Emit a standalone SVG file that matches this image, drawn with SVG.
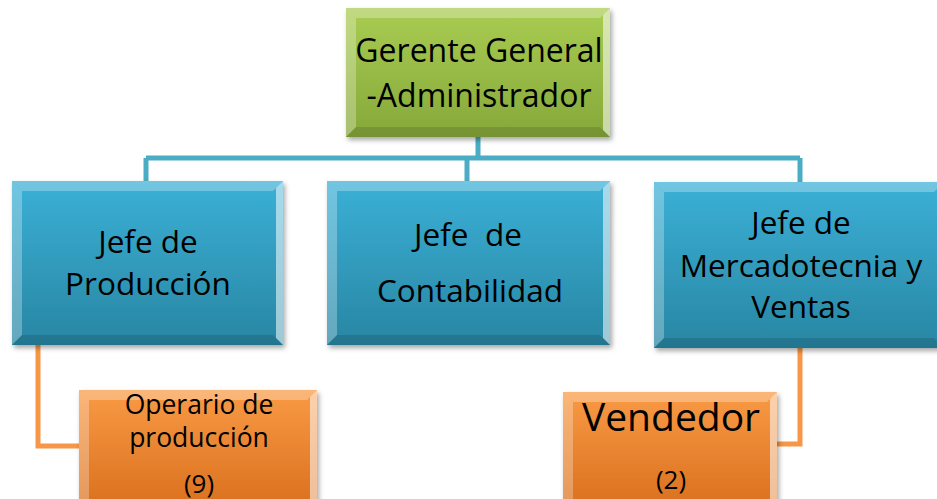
<svg xmlns="http://www.w3.org/2000/svg" width="937" height="499" viewBox="0 0 937 499">
<defs>
<linearGradient id="gGreen" x1="0" y1="0" x2="0" y2="1"><stop offset="0" stop-color="#a9cc52"/><stop offset="1" stop-color="#86a83a"/></linearGradient>
<linearGradient id="gBlue" x1="0" y1="0" x2="0" y2="1"><stop offset="0" stop-color="#3bb0d6"/><stop offset="1" stop-color="#2886a3"/></linearGradient>
<linearGradient id="gOrange" x1="0" y1="0" x2="0" y2="1"><stop offset="0" stop-color="#f99a45"/><stop offset="1" stop-color="#d96f1e"/></linearGradient>
<filter id="sh" x="-10%" y="-10%" width="125%" height="130%"><feDropShadow dx="2" dy="3" stdDeviation="2.5" flood-color="#000" flood-opacity="0.35"/></filter>
</defs>
<style>
.t{font-family:"Open Sans","Liberation Sans",sans-serif;fill:#000;text-anchor:middle}
.lt{fill:#fff;opacity:0.28}
.rt{fill:#fff;opacity:0.55}
.dk{fill:#000;opacity:0.12}
.cb{fill:none;stroke:#4bacc6;stroke-width:5}
.co{fill:none;stroke:#f79646;stroke-width:5}
</style>
<g id="connectors">
<path class="cb" d="M478 137V158M146 158H800M146 158V181M467 158V181M800 158V182"/>
<path class="co" d="M38 345V446H80"/>
<path class="co" d="M800 348V444H777"/>
</g>
<g id="gerente">
<rect x="346" y="8" width="264" height="129" fill="url(#gGreen)" filter="url(#sh)"/>
<polygon class="lt" points="346,8 610,8 600,18 356,18"/>
<polygon class="lt" points="346,8 356,18 356,127 346,137"/>
<polygon class="rt" points="610,8 610,137 603,130 603,15"/>
<polygon class="dk" points="346,137 610,137 600,127 356,127"/>
<text class="t" font-size="32" x="479" y="62">Gerente General</text>
<text class="t" font-size="32" x="479" y="107">-Administrador</text>
</g>
<g id="produccion">
<rect x="12" y="181" width="271" height="164" fill="url(#gBlue)" filter="url(#sh)"/>
<polygon class="lt" points="12,181 283,181 273,191 22,191"/>
<polygon class="lt" points="12,181 22,191 22,335 12,345"/>
<polygon class="rt" points="283,181 283,345 276,338 276,188"/>
<polygon class="dk" points="12,345 283,345 273,335 22,335"/>
<text class="t" font-size="31.5" x="148" y="253">Jefe de</text>
<text class="t" font-size="31.5" x="148" y="295">Producción</text>
</g>
<g id="contabilidad">
<rect x="327" y="181" width="283" height="164" fill="url(#gBlue)" filter="url(#sh)"/>
<polygon class="lt" points="327,181 610,181 600,191 337,191"/>
<polygon class="lt" points="327,181 337,191 337,335 327,345"/>
<polygon class="rt" points="610,181 610,345 603,338 603,188"/>
<polygon class="dk" points="327,345 610,345 600,335 337,335"/>
<text class="t" font-size="31.5" x="468" y="246" xml:space="preserve">Jefe  de</text>
<text class="t" font-size="31.5" x="470" y="302">Contabilidad</text>
</g>
<g id="mercadotecnia">
<rect x="654" y="182" width="290" height="166" fill="url(#gBlue)" filter="url(#sh)"/>
<polygon class="lt" points="654,182 944,182 934,192 664,192"/>
<polygon class="lt" points="654,182 664,192 664,338 654,348"/>
<polygon class="dk" points="654,348 944,348 934,338 664,338"/>
<text class="t" font-size="31.5" x="801" y="234">Jefe de</text>
<text class="t" font-size="31.5" x="801" y="277">Mercadotecnia y</text>
<text class="t" font-size="31.5" x="801" y="318">Ventas</text>
</g>
<g id="operario">
<rect x="79" y="390" width="238" height="120" fill="url(#gOrange)" filter="url(#sh)"/>
<polygon class="lt" points="79,390 317,390 307,400 89,400"/>
<polygon class="lt" points="79,390 89,400 89,510 79,510"/>
<polygon class="rt" points="317,390 317,510 310,510 310,397"/>
<text class="t" font-size="26.5" x="199" y="414">Operario de</text>
<text class="t" font-size="26.5" x="199" y="447">producción</text>
<text class="t" font-size="26" x="199" y="493">(9)</text>
</g>
<g id="vendedor">
<rect x="563" y="392" width="214" height="118" fill="url(#gOrange)" filter="url(#sh)"/>
<polygon class="lt" points="563,392 777,392 767,402 573,402"/>
<polygon class="lt" points="563,392 573,402 573,510 563,510"/>
<polygon class="rt" points="777,392 777,510 770,510 770,399"/>
<text class="t" font-size="39" x="671" y="431">Vendedor</text>
<text class="t" font-size="26" x="671" y="489">(2)</text>
</g>
</svg>
